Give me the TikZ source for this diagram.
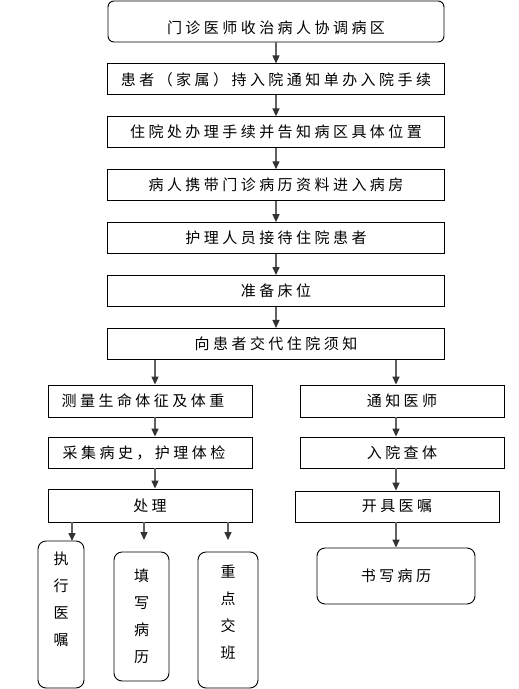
\documentclass[tikz,border=0pt]{standalone}
\usepackage{fontspec}
\usepackage{tikz}
\usetikzlibrary{arrows.meta,positioning}
\newfontfamily\cjk[LetterSpace=23]{Noto Sans CJK SC}
\newfontfamily\cjkv{Noto Sans CJK SC}
\newcommand\vtext[1]{\begin{tabular}{@{}c@{}}#1\end{tabular}}

\begin{document}
\begin{tikzpicture}[x=1pt,y=-1pt,
  font=\cjk\fontsize{15}{18}\selectfont,
  stepbox/.style={draw, rectangle, line width=0.9pt, minimum width=337pt, minimum height=31pt, inner sep=0pt},
  topbox/.style={draw, rectangle, rounded corners=6pt, line width=0.9pt, minimum width=336pt, minimum height=41pt, inner sep=0pt},
  sidebox/.style={draw, rectangle, line width=0.9pt, minimum width=204pt, minimum height=31pt, inner sep=0pt},
  endbox/.style={draw, rectangle, rounded corners=8pt, line width=0.9pt, inner sep=0pt,
    font=\cjkv\fontsize{15}{27}\selectfont},
  arr/.style={draw=black!62, line width=1.4pt, -{Triangle[width=7pt,length=8pt,color=black!80]}}
  ]
  \useasboundingbox (0,0) rectangle (519,689);

  % Nodes
  \node[topbox] (top) at (276,21.5) {\rule{0pt}{26pt}门诊医师收治病人协调病区};
  \node[stepbox, below=21pt of top] (jiaoshu) {患者（家属）持入院通知单办入院手续};
  \node[stepbox, below=21pt of jiaoshu] (weizhi) {住院处办理手续并告知病区具体位置};
  \node[stepbox, below=21pt of weizhi] (bingfang) {病人携带门诊病历资料进入病房};
  \node[stepbox, below=21pt of bingfang] (jiedai) {护理人员接待住院患者};
  \node[stepbox, below=21pt of jiedai] (chuangwei) {准备床位};
  \node[stepbox, below=21pt of chuangwei] (xuzhi) {向患者交代住院须知};

  % left branch
  \node[sidebox, minimum height=32pt] (celiang) at (150,401) {\hspace*{-14pt}测量生命体征及体重};
  \node[sidebox] (caiji) at (150,452.5) {\hspace*{-12pt}采集病史，护理体检};
  \node[sidebox, minimum height=33pt] (chuli) at (150,505.5) {处理};
  \node[endbox, minimum width=46pt, minimum height=147pt] (zhixing) at (61,614.5) {\vtext{执\\行\\医\\嘱}\rule[-80pt]{0pt}{1pt}};
  \node[endbox, minimum width=55pt, minimum height=129pt] (tianxie) at (141.5,616.5) {\vtext{填\\写\\病\\历}};
  \node[endbox, minimum width=60pt, minimum height=136pt] (jiaoban) at (228,620) {\vtext{重\\点\\交\\班}\rule[-66pt]{0pt}{1pt}};

  % right branch
  \node[sidebox, minimum height=32pt] (tongzhi) at (402,401) {通知医师};
  \node[sidebox] (chati) at (402,452.5) {入院查体};
  \node[sidebox] (yizhu) at (397,506.5) {开具医嘱};
  \node[endbox, minimum width=158pt, minimum height=56pt, font=\cjk\fontsize{15}{18}\selectfont] (shuxie) at (396,576) {书写病历};

  \coordinate (la) at (155,0);
  \coordinate (ra) at (396,0);
  \coordinate (t1) at (72,541);
  \coordinate (t2) at (144,540);
  \coordinate (t3) at (228,540);

  % Arrows
  \foreach \a/\b in {top/jiaoshu, jiaoshu/weizhi, weizhi/bingfang, bingfang/jiedai, jiedai/chuangwei, chuangwei/xuzhi}
    \draw[arr] (\a.south) -- (\b.north);
  \foreach \a/\b in {xuzhi/celiang, celiang/caiji, caiji/chuli}
    \draw[arr] (\a.south -| la) -- (\b.north -| la);
  \foreach \a/\b in {xuzhi/tongzhi, tongzhi/chati, chati/yizhu, yizhu/shuxie}
    \draw[arr] (\a.south -| ra) -- (\b.north -| ra);
  \foreach \t in {t1, t2, t3}
    \draw[arr] (chuli.south -| \t) -- (\t);

\end{tikzpicture}
\end{document}
